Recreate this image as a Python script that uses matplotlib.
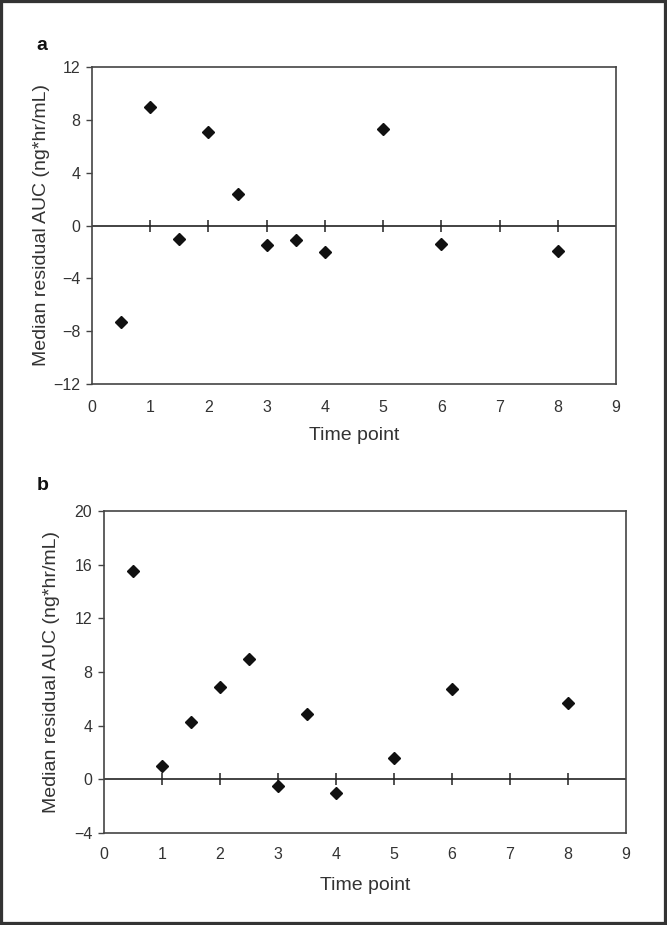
import matplotlib
matplotlib.use("Agg")
import matplotlib.pyplot as plt
from matplotlib.patches import Rectangle
import numpy as np

plt.rcParams['font.family'] = ['Liberation Sans', 'DejaVu Sans']

# Data
time_a = [0.5, 1, 1.5, 2, 2.5, 3, 3.5, 4, 5, 6, 8]
resid_a = [-7.3, 9.0, -1.0, 7.1, 2.4, -1.45, -1.1, -2.0, 7.3, -1.4, -1.9]
time_b = [0.5, 1, 1.5, 2, 2.5, 3, 3.5, 4, 5, 6, 8]
resid_b = [15.5, 1.0, 4.3, 6.9, 9.0, -0.5, 4.9, -1.0, 1.6, 6.7, 5.7]
xticks = [0, 1, 2, 3, 4, 5, 6, 7, 8, 9]
yticks_a = [-12, -8, -4, 0, 4, 8, 12]
yticks_b = [-4, 0, 4, 8, 12, 16, 20]
ylabel = "Median residual AUC (ng*hr/mL)"
xlabel = "Time point"

W, H = 667, 925
fig = plt.figure(figsize=(W / 100, H / 100), dpi=100)
fig.patch.set_facecolor('white')

spine_c = '#444444'
text_c = '#333333'

def px(l, t, r, b):
    return [l / W, 1 - b / H, (r - l) / W, (b - t) / H]

def panel(box, xs, ys, yticks, letter, letter_xy, xpad, ylab_x, xlab_y):
    l, t, r, b = box
    ax = fig.add_axes(px(l, t, r, b))
    ax.set_xlim(xticks[0], xticks[-1])
    ax.set_ylim(yticks[0], yticks[-1])
    ax.set_xticks(xticks)
    ax.set_yticks(yticks)
    ax.set_yticklabels([str(v).replace('-', '\u2212') for v in yticks])
    for s in ax.spines.values():
        s.set_color(spine_c)
        s.set_linewidth(1.2)
    ax.tick_params(axis='x', length=0, pad=xpad, labelsize=11.5, labelcolor=text_c)
    ax.tick_params(axis='y', direction='out', length=4.5, width=1.0, color=spine_c,
                   pad=4, labelsize=11.5, labelcolor=text_c)
    # zero line with crossing tick marks
    ax.axhline(0, color='#222222', lw=1.2, zorder=2)
    inner = xticks[1:-1]
    ax.plot(inner, np.zeros(len(inner)), ls='', marker='|', ms=9, mew=1.1,
            color='#222222', zorder=2)
    ax.plot(xs, ys, ls='', marker='D', ms=6.2, color='#111111', zorder=3)
    yl = ax.set_ylabel(ylabel, fontsize=14, color=text_c, va='center')
    ax.yaxis.set_label_coords((ylab_x - l) / (r - l), 0.5)
    xl = ax.set_xlabel(xlabel, fontsize=14, color=text_c, va='center')
    ax.xaxis.set_label_coords(0.5, (b - xlab_y) / (b - t))
    fig.text(letter_xy[0] / W, 1 - letter_xy[1] / H, letter, fontsize=14,
             fontweight='bold', ha='center', va='center', color='#111111')
    return ax

panel((92, 67, 616, 384), time_a, resid_a, yticks_a, 'a', (42, 45), 11.5, 42, 436)
panel((104, 511, 626, 833), time_b, resid_b, yticks_b, 'b', (43, 485), 10, 52, 886)

# outer border
fig.patches.append(Rectangle((0, 0), 1, 1, transform=fig.transFigure,
                             fill=False, edgecolor='#333333', lw=4.5))

fig.savefig('out.png', dpi=100)
